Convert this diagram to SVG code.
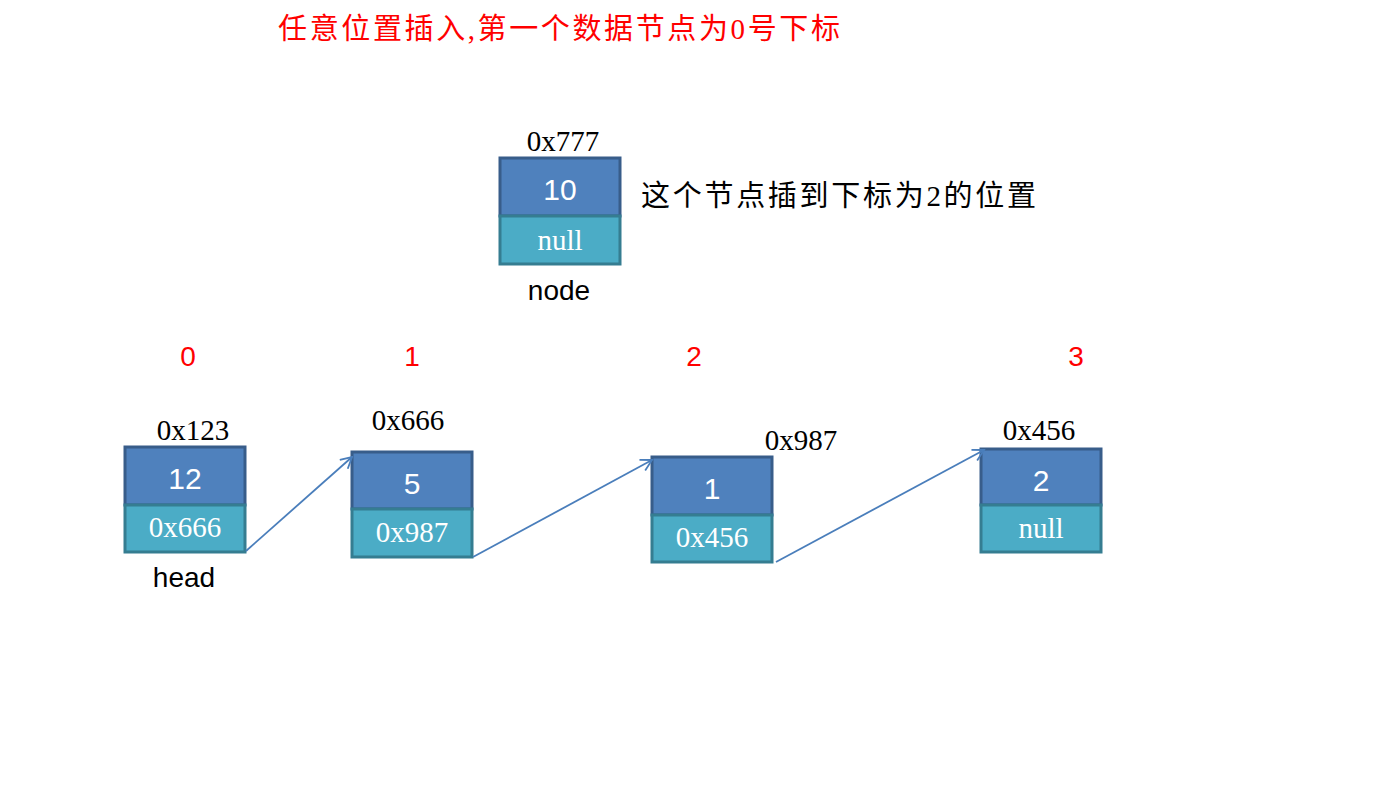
<svg xmlns="http://www.w3.org/2000/svg" width="1383" height="798" viewBox="0 0 1383 798">
<style>
.d{fill:#4F81BD;stroke:#385D8A;stroke-width:3}
.n{fill:#4BACC6;stroke:#357D91;stroke-width:3}
.sv{font-family:"Liberation Sans","DejaVu Sans",sans-serif;font-size:30px;fill:#fff;text-anchor:middle}
.sp{font-family:"Liberation Serif","DejaVu Serif",serif;font-size:29px;fill:#fff;text-anchor:middle}
.ad{font-family:"Liberation Serif","DejaVu Serif",serif;font-size:29px;fill:#000;text-anchor:middle}
.lb{font-family:"Liberation Sans","DejaVu Sans",sans-serif;font-size:28px;fill:#000;text-anchor:middle}
.ix{font-family:"Liberation Sans","DejaVu Sans",sans-serif;font-size:28px;fill:#f00;text-anchor:middle}
.cj{font-family:"Liberation Serif","Noto Sans CJK SC",serif;font-size:29px}
.ar{stroke:#4A7EBB;stroke-width:1.8;fill:none}
</style>
<defs>
<marker id="ah" markerWidth="14" markerHeight="14" refX="12" refY="7" orient="auto" markerUnits="userSpaceOnUse">
<path d="M1,1 L12,7 L1,13" fill="none" stroke="#4A7EBB" stroke-width="1.8"/>
</marker>
</defs>
<rect width="1383" height="798" fill="#fff"/>
<text id="title" class="cj" x="278" y="39" fill="#f00" textLength="562" lengthAdjust="spacing">任意位置插入,第一个数据节点为0号下标</text>
<g id="newnode">
<rect class="d" x="500" y="158" width="120" height="58"/>
<rect class="n" x="500" y="216" width="120" height="48"/>
<text class="ad" x="563" y="151">0x777</text>
<text class="sv" x="560" y="200">10</text>
<text class="sp" x="560" y="250">null</text>
<text class="lb" x="559" y="300">node</text>
</g>
<text id="note" class="cj" x="641" y="206" fill="#000" textLength="395" lengthAdjust="spacing">这个节点插到下标为2的位置</text>
<g id="indices">
<text class="ix" x="188" y="366">0</text>
<text class="ix" x="412" y="366">1</text>
<text class="ix" x="694" y="366">2</text>
<text class="ix" x="1076" y="366">3</text>
</g>
<g id="node0">
<rect class="d" x="125" y="447" width="120" height="58"/>
<rect class="n" x="125" y="505" width="120" height="47"/>
<text class="ad" x="193" y="440">0x123</text>
<text class="sv" x="185" y="489">12</text>
<text class="sp" x="185" y="537">0x666</text>
<text class="lb" x="184" y="587">head</text>
</g>
<g id="node1">
<rect class="d" x="352" y="452" width="120" height="57"/>
<rect class="n" x="352" y="509" width="120" height="48"/>
<text class="ad" x="408" y="430">0x666</text>
<text class="sv" x="412" y="494">5</text>
<text class="sp" x="412" y="542">0x987</text>
</g>
<g id="node2">
<rect class="d" x="652" y="457" width="120" height="58"/>
<rect class="n" x="652" y="515" width="120" height="47"/>
<text class="ad" x="801" y="450">0x987</text>
<text class="sv" x="712" y="499">1</text>
<text class="sp" x="712" y="547">0x456</text>
</g>
<g id="node3">
<rect class="d" x="981" y="449" width="120" height="56"/>
<rect class="n" x="981" y="505" width="120" height="47"/>
<text class="ad" x="1039" y="440">0x456</text>
<text class="sv" x="1041" y="491">2</text>
<text class="sp" x="1041" y="538">null</text>
</g>
<g id="connectors">
<line class="ar" x1="246" y1="551" x2="352" y2="457" marker-end="url(#ah)"/>
<line class="ar" x1="473" y1="557" x2="652" y2="460" marker-end="url(#ah)"/>
<line class="ar" x1="776" y1="562" x2="984" y2="450" marker-end="url(#ah)"/>
</g>
</svg>
